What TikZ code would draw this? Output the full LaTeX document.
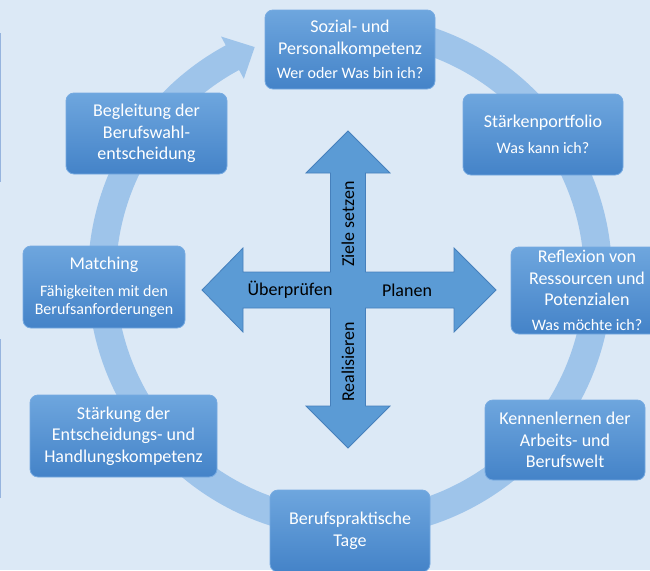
\documentclass[tikz,border=0pt]{standalone}
\usepackage{fontspec}
\setmainfont{Carlito}
\usetikzlibrary{calc}
\definecolor{bg}{RGB}{220,233,246}
\definecolor{ringc}{RGB}{158,196,234}
\definecolor{boxtop}{RGB}{110,166,222}
\definecolor{boxbot}{RGB}{68,131,200}
\definecolor{boxline}{RGB}{118,170,225}
\definecolor{crossc}{RGB}{91,155,213}
\definecolor{crossline}{RGB}{70,128,188}
\definecolor{edgec}{RGB}{150,180,222}
\newcommand\subf{\fontsize{16}{18}\selectfont}
\begin{document}
\begin{tikzpicture}[x=1pt,y=-1pt,
  box/.style={rounded corners=8pt, top color=boxtop, bottom color=boxbot, draw=boxline,
    line width=0.8pt, text=white, align=center, font=\fontsize{18}{21.5}\selectfont, inner sep=0pt},
  lab/.style={text=black, font=\fontsize{18}{21}\selectfont, inner sep=0pt},
  ring/.style={fill=ringc},
  cross/.style={fill=crossc, draw=crossline, line width=0.8pt, line join=miter},
  edgeline/.style={draw=edgec, line width=1.2pt}]
\useasboundingbox (0,0) rectangle (650,570);
\clip (0,0) rectangle (650,570);
\fill[bg] (0,0) rectangle (650,570);
\draw[edgeline] (0.6,33) -- (0.6,182);
\draw[edgeline] (0.6,339) -- (0.6,498);

% ring with arrow head
\coordinate (c) at (350,276);
\fill[ring] ($(c)+(-80:262)$) arc[start angle=-80, end angle=241.7, radius=262]
  -- ($(c)+(241.7:272)$) -- ($(c)+(247.4:248)$) -- ($(c)+(241.7:224)$)
  -- ($(c)+(241.7:234)$) arc[start angle=241.7, end angle=-80, radius=234] -- cycle;

% central cross
\coordinate (x) at (348,290);
\filldraw[cross] ($(x)+(0,-159)$) -- ++(42,42) -- ++(-24.5,0) -- ++(0,99) -- ++(88.5,0)
  -- ++(0,-24) -- ++(42,42) -- ++(-42,42) -- ++(0,-24) -- ++(-88.5,0) -- ++(0,98)
  -- ++(24.5,0) -- ++(-42,42) -- ++(-42,-42) -- ++(24.5,0) -- ++(0,-98) -- ++(-87.5,0)
  -- ++(0,24) -- ++(-41,-42) -- ++(41,-42) -- ++(0,24) -- ++(87.5,0) -- ++(0,-99)
  -- ++(-24.5,0) -- cycle;
\node[lab, rotate=90] (ziele) at (348,224) {Ziele setzen};
\node[lab, rotate=90] (real) at (348,362) {Realisieren};
\node[lab] (ueber) at (290,290) {Überprüfen};
\node[lab] (plan) at (407,290) {Planen};

% boxes
\node[box, minimum width=170pt, minimum height=79pt] (soz) at (350,49.5)
  {Sozial- und\\Personalkompetenz\\[3pt]{\subf Wer oder Was bin ich?}};
\node[box, minimum width=160pt, minimum height=81pt] (staerk) at (543,134.5)
  {Stärkenportfolio\\[4pt]{\subf Was kann ich?}};
\node[box, minimum width=152pt, minimum height=87pt] (refl) at (587,290.5)
  {Reflexion von\\Ressourcen und\\Potenzialen\\[3pt]{\subf Was möchte ich?}};
\node[box, minimum width=160pt, minimum height=80pt] (kenn) at (565,440)
  {Kennenlernen der\\Arbeits- und\\Berufswelt};
\node[box, minimum width=160pt, minimum height=82pt] (beruf) at (350,531)
  {Berufspraktische\\Tage};
\node[box, minimum width=187pt, minimum height=82pt] (staerkung) at (123.5,436)
  {Stärkung der\\Entscheidungs- und\\Handlungskompetenz};
\node[box, minimum width=162pt, minimum height=82pt] (match) at (104,287)
  {Matching\\[6pt]{\subf Fähigkeiten mit den}\\[-4pt]{\subf Berufsanforderungen}};
\node[box, minimum width=161pt, minimum height=81pt] (begl) at (146.5,133.5)
  {Begleitung der\\Berufswahl-\\entscheidung};
\end{tikzpicture}
\end{document}
